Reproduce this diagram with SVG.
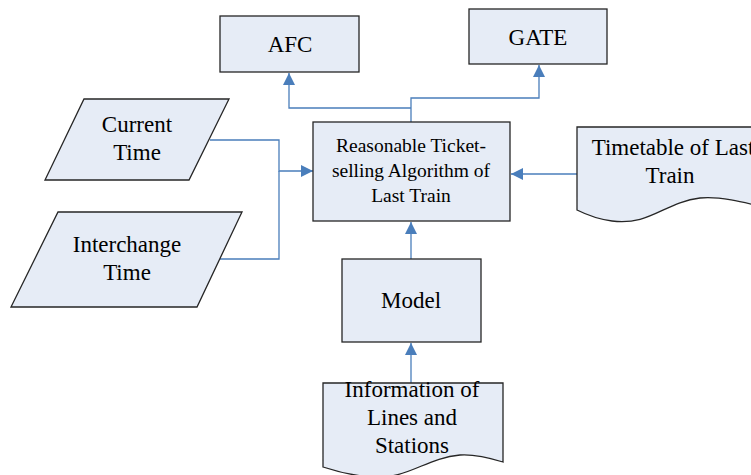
<svg xmlns="http://www.w3.org/2000/svg" width="751" height="475" viewBox="0 0 751 475">
<defs>
<marker id="arr" markerUnits="userSpaceOnUse" markerWidth="12" markerHeight="12" viewBox="0 0 10 10" refX="10" refY="5" orient="auto">
<path d="M0,0 L10,5 L0,10 Z" fill="#4a7ebb"/>
</marker>
</defs>
<style>
.shape{fill:#e6ecf6;stroke:#262626;stroke-width:1.3}
text{font-family:'Liberation Serif','Tinos','Times New Roman','DejaVu Serif',serif;fill:#000;text-anchor:middle}
.t{font-size:23px}
.ts{font-size:19.5px}
.c{fill:none;stroke:#4a7ebb;stroke-width:1.3}
</style>
<rect width="751" height="475" fill="#fff"/>
<g id="connectors">
<path class="c" d="M411,122 V98 H539 V65" marker-end="url(#arr)"/>
<path class="c" d="M411,108 H289 V73" marker-end="url(#arr)"/>
<path class="c" d="M210,140 H279 V171 H313" marker-end="url(#arr)"/>
<path class="c" d="M220,259 H279 V171"/>
<path class="c" d="M577,174 H511" marker-end="url(#arr)"/>
<path class="c" d="M411,259 V222" marker-end="url(#arr)"/>
<path class="c" d="M411,383 V343" marker-end="url(#arr)"/>
</g>
<g id="afc">
<rect class="shape" x="220" y="16" width="139" height="56"/>
<text class="t" x="290" y="52" font-family="Liberation Serif, serif">AFC</text>
</g>
<g id="gate">
<rect class="shape" x="469" y="9" width="138" height="55"/>
<text class="t" x="538" y="45" font-family="Liberation Serif, serif">GATE</text>
</g>
<g id="current-time">
<polygon class="shape" points="84,99 229,99 189,180 45,180"/>
<text class="t" x="137" y="132" font-family="Liberation Serif, serif">Current</text>
<text class="t" x="137" y="160" font-family="Liberation Serif, serif">Time</text>
</g>
<g id="interchange-time">
<polygon class="shape" points="58,212 242,212 197,307 11,307"/>
<text class="t" x="127" y="252" font-family="Liberation Serif, serif">Interchange</text>
<text class="t" x="127" y="280" font-family="Liberation Serif, serif">Time</text>
</g>
<g id="algorithm">
<rect class="shape" x="313" y="122" width="197" height="99"/>
<text class="ts" x="411" y="152" font-family="Liberation Serif, serif">Reasonable Ticket-</text>
<text class="ts" x="411" y="177" font-family="Liberation Serif, serif">selling Algorithm of</text>
<text class="ts" x="411" y="202" font-family="Liberation Serif, serif">Last Train</text>
</g>
<g id="timetable">
<path class="shape" d="M577,127 H763 V207 C743,202 719,196 700,198 C665,202 650,226 612,221 C597,219 585,214 577,210 Z"/>
<text class="t" x="673" y="155" font-family="Liberation Serif, serif">Timetable of Last</text>
<text class="t" x="670" y="183" font-family="Liberation Serif, serif">Train</text>
</g>
<g id="model">
<rect class="shape" x="342" y="259" width="139" height="83"/>
<text class="t" x="411" y="308" font-family="Liberation Serif, serif">Model</text>
</g>
<g id="information">
<path class="shape" d="M323,383 H503 V462 C490,458 475,454 460,455 C425,458 408,480 370,477 C350,475 335,471 323,467 Z"/>
<text class="t" x="412" y="397" font-family="Liberation Serif, serif">Information of</text>
<text class="t" x="412" y="425" font-family="Liberation Serif, serif">Lines and</text>
<text class="t" x="412" y="453" font-family="Liberation Serif, serif">Stations</text>
</g>
</svg>
